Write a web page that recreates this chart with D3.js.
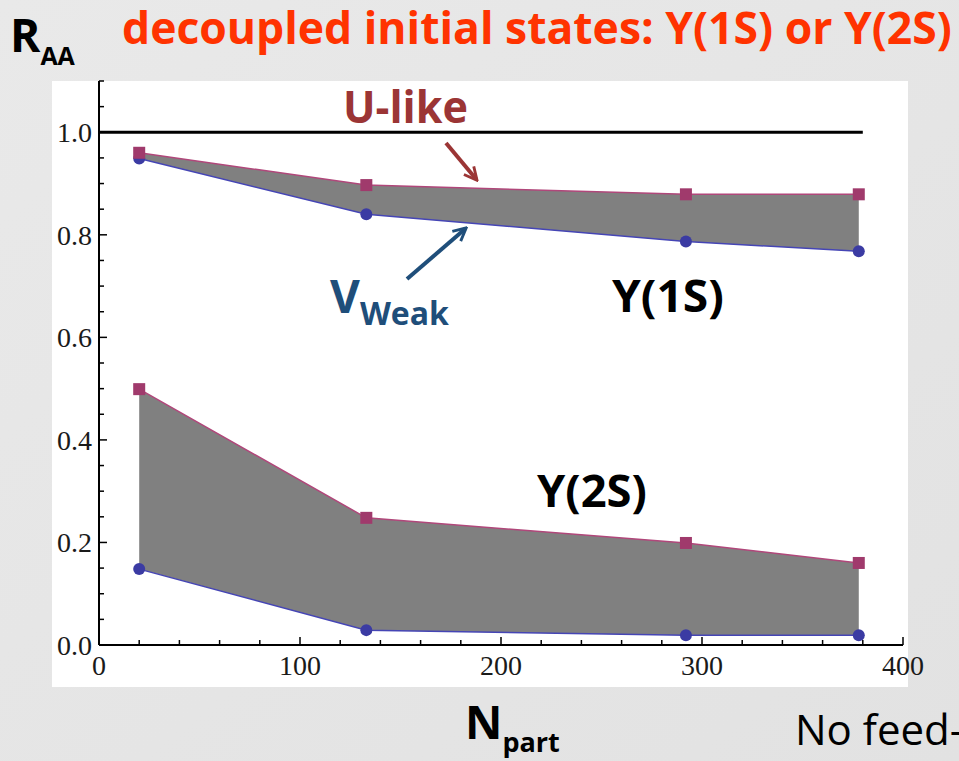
<!DOCTYPE html>
<html>
<head>
<meta charset="utf-8">
<script src="https://cdn.jsdelivr.net/npm/d3@7"></script>
<style>
  body { margin: 0; background: #e8e8e8; }
  svg { display: block; }
</style>
</head>
<body>
<svg width="959" height="761"></svg>
<script>
const svg = d3.select("svg");
const width = +svg.attr("width");
const height = +svg.attr("height");

// data
const npart = [20, 133, 292, 378];
const ups1S = [0.96, 0.897, 0.879, 0.879];   // U-like, Y(1S)
const vw1S  = [0.949, 0.840, 0.787, 0.768];  // V_weak, Y(1S)
const ups2S = [0.499, 0.248, 0.199, 0.160];  // U-like, Y(2S)
const vw2S  = [0.148, 0.029, 0.019, 0.019];  // V_weak, Y(2S)
const xTicks = [0, 100, 200, 300, 400];
const yTicks = [0.0, 0.2, 0.4, 0.6, 0.8, 1.0];
const refLine = [0, 380];

const x = d3.scaleLinear().domain([0, 400]).range([99, 903]);
const y = d3.scaleLinear().domain([0, 1.1]).range([645, 81]);

// background gradient
const defs = svg.append("defs");
const grad = defs.append("linearGradient").attr("id", "bg")
    .attr("x1", 0).attr("y1", 0).attr("x2", 1).attr("y2", 1);
grad.append("stop").attr("offset", 0).attr("stop-color", "#e9e9e9");
grad.append("stop").attr("offset", 1).attr("stop-color", "#e2e2e2");
svg.append("rect").attr("width", width).attr("height", height).attr("fill", "url(#bg)");

// arrow heads
function marker(id, color) {
    defs.append("marker").attr("id", id)
        .attr("viewBox", "0 0 10 10").attr("refX", 8).attr("refY", 5)
        .attr("markerWidth", 4).attr("markerHeight", 4).attr("orient", "auto")
        .append("path").attr("d", "M1,1 L9,5 L1,9").attr("fill", "none")
        .attr("stroke", color).attr("stroke-width", 1.8);
}
marker("redHead", "#9b3535");
marker("blueHead", "#1f4e7a");

// white plot panel
svg.append("rect").attr("x", 52).attr("y", 81).attr("width", 856).attr("height", 606).attr("fill", "#fff");

// bands
const rows = (a, b) => npart.map((n, i) => ({ n, hi: a[i], lo: b[i] }));
const area = d3.area().x(d => x(d.n)).y0(d => y(d.lo)).y1(d => y(d.hi));
const bands = [rows(ups1S, vw1S), rows(ups2S, vw2S)];

const g = svg.append("g");
bands.forEach(band => {
    g.append("path").datum(band).attr("d", area).attr("fill", "#808080");
    g.append("path").datum(band)
        .attr("d", d3.line().x(d => x(d.n)).y(d => y(d.hi)))
        .attr("fill", "none").attr("stroke", "#b0477a").attr("stroke-width", 1.5);
    g.append("path").datum(band)
        .attr("d", d3.line().x(d => x(d.n)).y(d => y(d.lo)))
        .attr("fill", "none").attr("stroke", "#4545b5").attr("stroke-width", 1.5);
    g.selectAll(null).data(band).enter().append("circle")
        .attr("cx", d => x(d.n)).attr("cy", d => y(d.lo)).attr("r", 6)
        .attr("fill", "#3b3ba3");
    g.selectAll(null).data(band).enter().append("rect")
        .attr("x", d => x(d.n) - 6).attr("y", d => y(d.hi) - 6)
        .attr("width", 12).attr("height", 12).attr("fill", "#a03a6c");
});

// R_AA = 1 line
svg.append("line")
    .attr("x1", x(refLine[0])).attr("x2", x(refLine[1]))
    .attr("y1", y(1)).attr("y2", y(1))
    .attr("stroke", "#000").attr("stroke-width", 3);

// axes
const tickFont = "Liberation Serif, DejaVu Serif, serif";
const ax = svg.append("g").attr("stroke", "#000");
ax.append("line").attr("x1", x(0)).attr("x2", x(400)).attr("y1", y(0)).attr("y2", y(0)).attr("stroke-width", 2);
ax.append("line").attr("x1", x(0)).attr("x2", x(0)).attr("y1", y(0)).attr("y2", y(1.1)).attr("stroke-width", 2);

d3.range(0, 401, 20).forEach(v => {
    const major = v % 100 === 0;
    ax.append("line").attr("x1", x(v)).attr("x2", x(v))
        .attr("y1", y(0)).attr("y2", y(0) - (major ? 8 : 5)).attr("stroke-width", 1.5);
});
d3.range(0, 23).map(i => i * 0.05).forEach((v, i) => {
    const major = i % 4 === 0;
    ax.append("line").attr("x1", x(0)).attr("x2", x(0) + (major ? 8 : 5))
        .attr("y1", y(v)).attr("y2", y(v)).attr("stroke-width", 1.5);
});

svg.selectAll(null).data(xTicks).enter().append("text")
    .attr("x", d => x(d)).attr("y", 675)
    .attr("text-anchor", "middle")
    .style("font-family", tickFont).style("font-size", "28px").attr("fill", "#1a1a1a")
    .text(d => d);
svg.selectAll(null).data(yTicks).enter().append("text")
    .attr("x", 92).attr("y", d => y(d) + 10)
    .attr("text-anchor", "end")
    .style("font-family", tickFont).style("font-size", "28px").attr("fill", "#1a1a1a")
    .text(d => d3.format(".1f")(d));

// labels
const sans = "Open Sans, DejaVu Sans, sans-serif";
function sub(px, py, main, subTxt, size, subSize, color, dy) {
    const t = svg.append("text").attr("x", px).attr("y", py)
        .style("font-family", sans).attr("font-weight", "bold")
        .style("font-size", size + "px").attr("fill", color);
    t.append("tspan").text(main);
    t.append("tspan").style("font-size", subSize + "px").attr("dy", dy).text(subTxt);
}
sub(10, 52, "R", "AA", 46, 25, "#000", 13);
sub(465, 739, "N", "part", 46, 27, "#000", 13);
sub(330, 313, "V", "Weak", 46, 32, "#1f4e7a", 12);

// bold label squeezed to a given width (the slide font is narrower)
function fitted(px, py, txt, size, w, color) {
    const gg = svg.append("g");
    const t = gg.append("text")
        .style("font-family", sans).attr("font-weight", "bold").style("font-size", size + "px")
        .attr("fill", color).text(txt);
    const sx = w / t.node().getComputedTextLength();
    gg.attr("transform", `translate(${px},${py}) scale(${sx},1)`);
}
fitted(122, 44, "decoupled initial states: Y(1S) or Y(2S)", 45, 830, "#ff3300");
fitted(343, 123, "U-like", 45, 125, "#9b3535");
fitted(612, 312, "Y(1S)", 45, 112, "#000");
fitted(537, 507, "Y(2S)", 45, 110, "#000");

// cut off at the right edge, as in the slide
svg.append("text").attr("x", 795).attr("y", 745)
    .style("font-family", sans).style("font-size", "42px").attr("fill", "#000")
    .text("No feed-");

// arrows
svg.append("line").attr("x1", 446).attr("y1", 143).attr("x2", 476).attr("y2", 179)
    .attr("stroke", "#9b3535").attr("stroke-width", 4).attr("marker-end", "url(#redHead)");
svg.append("line").attr("x1", 407).attr("y1", 279).attr("x2", 465).attr("y2", 229)
    .attr("stroke", "#1f4e7a").attr("stroke-width", 4).attr("marker-end", "url(#blueHead)");
</script>
</body>
</html>
